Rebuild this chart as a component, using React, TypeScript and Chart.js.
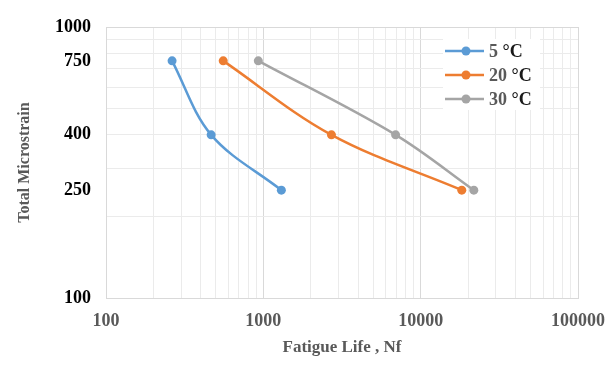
import React, { useEffect, useRef } from "react";
import { Chart, registerables } from "chart.js";

Chart.register(...registerables);

// ---- data ----
const strainLevels = [750, 400, 250];
const life5C = [263, 466, 1302];
const life20C = [556, 2710, 18250];
const life30C = [929, 6930, 21770];
const seriesLabels = ["5 °C", "20 °C", "30 °C"];
const seriesColors = ["#5B9BD5", "#ED7D31", "#A5A5A5"];
const xTickLabels = [100, 1000, 10000, 100000];
const yTickLabels = [100, 250, 400, 750, 1000];
const yAxisTitle = "Total Microstrain";
const xAxisTitle = "Fatigue Life , Nf";

const FONT = "'Liberation Serif', 'Times New Roman', serif";
const MINOR = "#ebebeb";
const MAJOR = "#d9d9d9";

function logGrid(min: number, max: number): number[] {
  const out: number[] = [];
  for (let d = min; d < max; d *= 10) {
    for (let k = 1; k < 10; k++) out.push(d * k);
  }
  out.push(max);
  return out;
}

const legendPlugin = {
  id: "insideLegend",
  afterDatasetsDraw(chart: any) {
    const ctx = chart.ctx as CanvasRenderingContext2D;
    ctx.save();
    ctx.fillStyle = "#ffffff";
    ctx.fillRect(435, 30, 97, 71);
    chart.data.datasets.forEach((ds: any, i: number) => {
      const y = 42 + i * 24;
      ctx.strokeStyle = ds.borderColor;
      ctx.lineWidth = 2.5;
      ctx.beginPath();
      ctx.moveTo(437, y);
      ctx.lineTo(476, y);
      ctx.stroke();
      ctx.fillStyle = ds.borderColor;
      ctx.beginPath();
      ctx.arc(458, y, 4.5, 0, Math.PI * 2);
      ctx.fill();
      const label: string = ds.label;
      const parts = label.split(" ");
      ctx.font = `bold 18px ${FONT}`;
      ctx.textBaseline = "middle";
      ctx.textAlign = "left";
      ctx.fillStyle = "#595959";
      const num = parts[0] + " ";
      ctx.fillText(num, 481, y + 1);
      const w = ctx.measureText(num).width;
      ctx.fillStyle = "#1a1a1a";
      ctx.fillText(parts.slice(1).join(" "), 481 + w, y + 1);
    });
    ctx.restore();
  },
};

export default function App() {
  const ref = useRef<HTMLCanvasElement | null>(null);

  useEffect(() => {
    if (!ref.current) return;
    const series = [life5C, life20C, life30C];
    const xGrid = logGrid(100, 100000);
    const yGrid = logGrid(100, 1000);
    const yAll = Array.from(new Set([...yGrid, ...yTickLabels])).sort((a, b) => a - b);

    const chart = new Chart(ref.current, {
      type: "scatter",
      data: {
        datasets: series.map((s, i) => ({
          label: seriesLabels[i],
          data: s.map((x, j) => ({ x, y: strainLevels[j] })),
          showLine: true,
          borderColor: seriesColors[i],
          backgroundColor: seriesColors[i],
          borderWidth: 2.5,
          pointRadius: 4.5,
          pointHoverRadius: 4.5,
          pointBorderWidth: 0,
          tension: 0.35,
        })),
      },
      options: {
        responsive: false,
        animation: false,
        layout: { padding: { left: 0, right: 30, top: 18, bottom: 0 } },
        plugins: {
          legend: { display: false },
          tooltip: { enabled: false },
        },
        scales: {
          x: {
            type: "logarithmic",
            min: 100,
            max: 100000,
            afterBuildTicks: (scale: any) => {
              scale.ticks = xGrid.map((v) => ({ value: v }));
            },
            afterFit: (scale: any) => {
              scale.height = 60;
              scale.paddingLeft = 0;
              scale.paddingRight = 0;
            },
            ticks: {
              autoSkip: false,
              maxRotation: 0,
              padding: 13,
              color: "#595959",
              font: { family: FONT, size: 18, weight: "bold" },
              callback: (v: any) => (xTickLabels.includes(Number(v)) ? String(v) : ""),
            },
            grid: {
              drawTicks: false,
              lineWidth: 1,
              color: (c: any) => {
                const v = c.tick && c.tick.value;
                return xTickLabels.includes(v) ? MAJOR : MINOR;
              },
            },
            border: { display: true, color: MAJOR, width: 1 },
            title: {
              display: true,
              text: xAxisTitle,
              color: "#595959",
              font: { family: FONT, size: 17, weight: "bold" },
              padding: { top: 0, bottom: 0 },
            },
          },
          y: {
            type: "logarithmic",
            min: 100,
            max: 1000,
            afterBuildTicks: (scale: any) => {
              scale.ticks = yAll.map((v) => ({ value: v }));
            },
            afterFit: (scale: any) => {
              scale.width = 98;
              scale.paddingTop = 0;
              scale.paddingBottom = 0;
            },
            ticks: {
              autoSkip: false,
              padding: 15,
              color: "#000000",
              font: { family: FONT, size: 18, weight: "bold" },
              callback: (v: any) => (yTickLabels.includes(Number(v)) ? String(v) : ""),
            },
            grid: {
              drawTicks: false,
              lineWidth: 1,
              color: (c: any) => {
                const v = c.tick && c.tick.value;
                if (!yGrid.includes(v)) return "rgba(0,0,0,0)";
                return v === 1000 ? MAJOR : MINOR;
              },
            },
            border: { display: true, color: MAJOR, width: 1 },
            title: {
              display: true,
              text: yAxisTitle,
              color: "#595959",
              font: { family: FONT, size: 16, weight: "bold" },
              padding: { top: 7, bottom: 0 },
            },
          },
        },
      },
      plugins: [legendPlugin],
    } as any);
    return () => chart.destroy();
  }, []);

  return (
    <div
      style={{
        marginLeft: -3,
        marginTop: -2,
        paddingLeft: 1,
        paddingTop: 1,
        borderLeft: "2px solid #d9d9d9",
        borderTop: "2px solid #d9d9d9",
        width: 601,
        height: 349,
        background: "#ffffff",
      }}
    >
      <canvas ref={ref} width={600} height={349} style={{ display: "block" }} />
    </div>
  );
}
